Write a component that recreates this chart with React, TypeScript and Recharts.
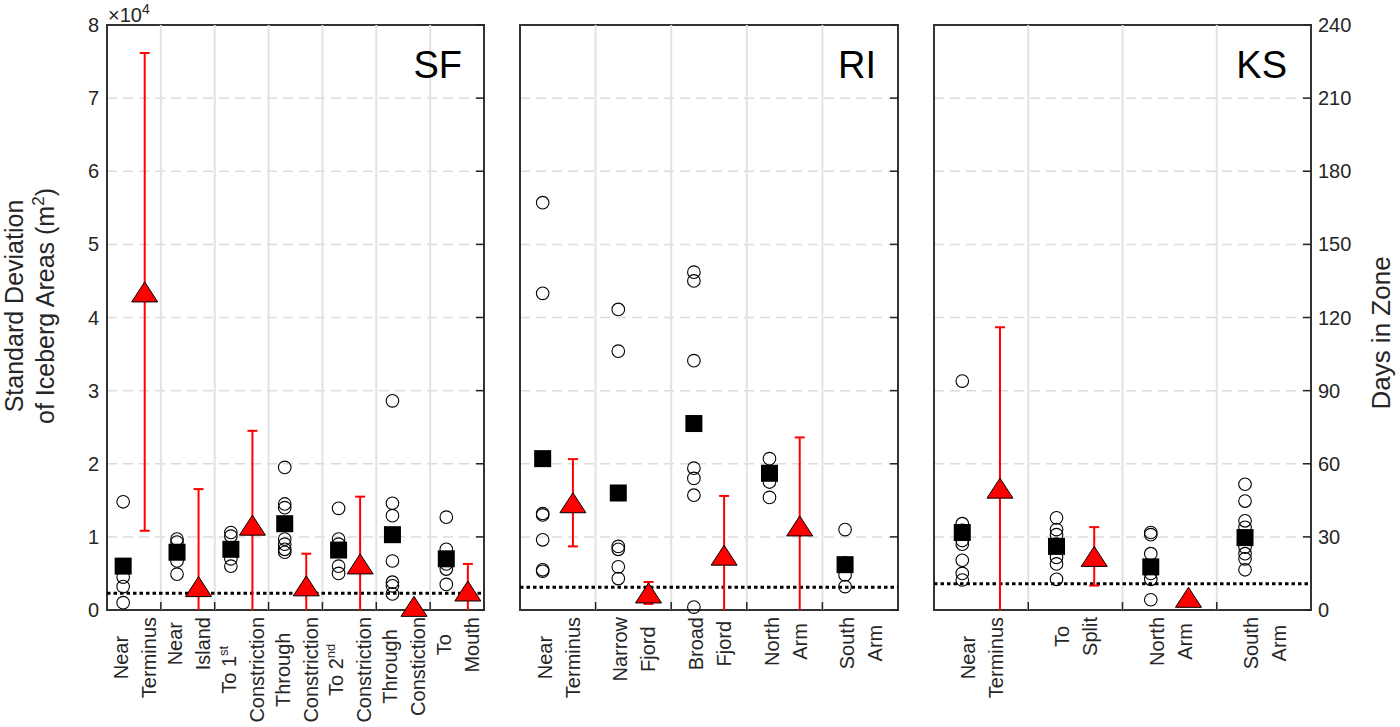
import React from "react";
import {
  CartesianGrid,
  ComposedChart,
  ErrorBar,
  ReferenceArea,
  ReferenceLine,
  Scatter,
  XAxis,
  YAxis
} from "recharts";

const W = 1400;
const H = 727;
const TOP = 25;
const BOTTOM = 610;
const FONT = "'Liberation Sans', Arial, Helvetica, sans-serif";
const INK = "#262626";

// areas in 1e4 m^2, days in zone on the right axis
const areaTicks = [0, 1, 2, 3, 4, 5, 6, 7, 8];
const dayTicks = [0, 30, 60, 90, 120, 150, 180, 210, 240];

// SF
const sfZones = [
  ["Near", "Terminus"],
  ["Near", "Island"],
  ["To 1^st", "Constriction"],
  ["Through", "Constriction"],
  ["To 2^nd", "Constriction"],
  ["Through", "Constiction"],
  ["To", "Mouth"]
];
const sfIcebergs = [
  [1.48, 0.45, 0.32, 0.1],
  [0.97, 0.93, 0.67, 0.49],
  [1.06, 1.01, 0.7, 0.6],
  [1.95, 1.45, 1.4, 0.97, 0.9, 0.83, 0.79],
  [1.39, 0.97, 0.9, 0.6, 0.5],
  [2.86, 1.46, 1.29, 0.67, 0.38, 0.33, 0.22],
  [1.27, 0.83, 0.63, 0.56, 0.35]
];
const sfMeans = [0.6, 0.79, 0.83, 1.18, 0.82, 1.03, 0.7];
const sfDays = [130.5, 9.6, 34.8, 9.9, 18.9, 1.5, 7.8];
const sfDaysStd = [98, 40, 38.7, 13.2, 27.6, 0, 11.1];
const sfThreshold = 0.23;

// RI
const riZones = [
  ["Near", "Terminus"],
  ["Narrow", "Fjord"],
  ["Broad", "Fjord"],
  ["North", "Arm"],
  ["South", "Arm"]
];
const riIcebergs = [
  [5.57, 4.33, 1.32, 1.3, 0.96, 0.55, 0.53],
  [4.11, 3.54, 0.87, 0.83, 0.59, 0.43],
  [4.62, 4.5, 3.41, 1.94, 1.8, 1.57, 0.04],
  [2.07, 1.87, 1.75, 1.54],
  [1.1, 0.64, 0.48, 0.32]
];
const riMeans = [2.07, 1.6, 2.55, 1.87, 0.62];
const riDays = [44, 7, 22.5, 34.5, null];
const riDaysStd = [17.9, 4.5, 24.3, 36.3, null];
const riThreshold = 0.31;

// KS
const ksZones = [
  ["Near", "Terminus"],
  ["To", "Split"],
  ["North", "Arm"],
  ["South", "Arm"]
];
const ksIcebergs = [
  [3.13, 1.18, 1.09, 0.95, 0.9, 0.68, 0.5, 0.41],
  [1.26, 1.1, 1.03, 0.9, 0.72, 0.63, 0.42],
  [1.06, 1.03, 0.77, 0.5, 0.42, 0.14],
  [1.72, 1.49, 1.22, 1.13, 0.86, 0.77, 0.7, 0.55]
];
const ksMeans = [1.06, 0.87, 0.59, 0.99];
const ksDays = [50, 22, 5.2, null];
const ksDaysStd = [66, 12, 0, null];
const ksThreshold = 0.36;

let measureCtx: CanvasRenderingContext2D | null = null;
function textWidth(s: string, size: number) {
  if (!measureCtx) measureCtx = document.createElement("canvas").getContext("2d");
  if (!measureCtx) return s.length * size * 0.55;
  measureCtx.font = `${size}px 'Liberation Sans'`;
  return measureCtx.measureText(s).width;
}

function lineWidth(line: string) {
  const [main, sup] = line.split("^");
  return textWidth(main, 20) + (sup ? textWidth(sup, 13) : 0);
}

function LabelLine({ line, y }: { line: string; y: number }) {
  const [main, sup] = line.split("^");
  return (
    <>
      <tspan x={0} y={y}>{main}</tspan>
      {sup && <tspan dy={-8} fontSize={13}>{sup}</tspan>}
    </>
  );
}

const circleShape = (p: any) => (
  <circle cx={p.cx} cy={p.cy} r={6.3} fill="none" stroke="#000" strokeWidth={1.1} />
);
const squareShape = (p: any) => (
  <rect x={p.cx - 8.5} y={p.cy - 8.5} width={17} height={17} fill="#000" />
);
const triangleShape = (p: any) => (
  <path
    d={`M${p.cx},${p.cy - 10} L${p.cx + 13},${p.cy + 10} L${p.cx - 13},${p.cy + 10} Z`}
    fill="#ff0000"
    stroke="#000"
    strokeWidth={1}
  />
);
const noShape = () => <g />;

type PanelProps = {
  zones: string[][];
  icebergs: number[][];
  means: number[];
  days: (number | null)[];
  daysStd: (number | null)[];
  threshold: number;
  left: number;
  right: number;
  showLeft?: boolean;
  showRight?: boolean;
};

function Panel({ zones, icebergs, means, days, daysStd, threshold, left, right, showLeft, showRight }: PanelProps) {
  const n = zones.length;
  const circleData = icebergs.flatMap((vals, i) => vals.map((v) => ({ x: i + 0.8, y: v })));
  const meanData = means.map((v, i) => ({ x: i + 0.8, y: v }));
  const dayData = days.flatMap((v, i) => (v == null ? [] : [{ x: i + 1.2, y: v, std: daysStd[i] }]));
  const xTicks: number[] = [];
  for (let i = 1; i <= n; i++) {
    xTicks.push(i);
    if (i < n) xTicks.push(i + 0.5);
  }
  const bounds = xTicks.filter((t) => !Number.isInteger(t));

  const xTick = ({ x, payload }: any) => {
    const v = payload.value;
    if (!Number.isInteger(v)) {
      return <line x1={x} x2={x} y1={BOTTOM} y2={BOTTOM - 8} stroke={INK} strokeWidth={1.5} />;
    }
    const lines = zones[v - 1];
    const len = Math.max(...lines.map(lineWidth));
    return (
      <g transform={`translate(${x},${BOTTOM + 7 + len / 2}) rotate(-90)`}>
        <text textAnchor="middle" fontSize={20} fill={INK} fontFamily={FONT}>
          <LabelLine line={lines[0]} y={-6} />
          <LabelLine line={lines[1]} y={22} />
        </text>
      </g>
    );
  };

  const leftTick = ({ y, payload }: any) => (
    <text x={left - 8} y={y} dy={7} textAnchor="end" fontSize={20} fill={INK} fontFamily={FONT}>
      {payload.value}
    </text>
  );

  const rightTick = ({ y, payload }: any) => (
    <g>
      <line x1={right - 8} x2={right} y1={y} y2={y} stroke={INK} strokeWidth={1.5} />
      {showRight && (
        <text x={right + 7} y={y} dy={7} textAnchor="start" fontSize={20} fill={INK} fontFamily={FONT}>
          {payload.value}
        </text>
      )}
    </g>
  );

  return (
    <div style={{ position: "absolute", left: 0, top: 0 }}>
      <ComposedChart
        width={W}
        height={H}
        margin={{
          top: TOP,
          bottom: H - BOTTOM - 1,
          left: showLeft ? left - 1 : left,
          right: W - right - 1
        }}
      >
        <CartesianGrid
          yAxisId="area"
          vertical={false}
          stroke="#dcdcdc"
          strokeWidth={1.5}
          strokeDasharray="10 6"
        />
        <XAxis
          dataKey="x"
          type="number"
          domain={[0.5, n + 0.5]}
          ticks={xTicks}
          interval={0}
          tick={xTick}
          tickLine={false}
          axisLine={false}
          height={1}
        />
        <YAxis
          yAxisId="area"
          dataKey="y"
          type="number"
          domain={[0, 8]}
          ticks={areaTicks}
          interval={0}
          hide={!showLeft}
          width={1}
          tick={leftTick}
          tickLine={false}
          axisLine={false}
        />
        <YAxis
          yAxisId="days"
          orientation="right"
          dataKey="y"
          type="number"
          domain={[0, 240]}
          ticks={dayTicks}
          interval={0}
          width={1}
          tick={rightTick}
          tickLine={false}
          axisLine={false}
        />
        {/* same scale as "days", fixed so the +-std bars cannot stretch it */}
        <YAxis yAxisId="err" dataKey="y" type="number" domain={[0, 240]} allowDataOverflow hide />
        {bounds.map((b) => (
          <ReferenceLine key={b} x={b} yAxisId="area" stroke="#e2e2e2" strokeWidth={2} />
        ))}
        <ReferenceLine
          y={threshold}
          yAxisId="area"
          stroke="#000"
          strokeWidth={3}
          strokeDasharray="3.5 3"
        />
        <ReferenceArea
          x1={0.5}
          x2={n + 0.5}
          y1={0}
          y2={8}
          yAxisId="area"
          fill="none"
          stroke="#333"
          strokeWidth={2}
        />
        <Scatter yAxisId="area" data={circleData} shape={circleShape} isAnimationActive={false} />
        <Scatter yAxisId="area" data={meanData} shape={squareShape} isAnimationActive={false} />
        <Scatter yAxisId="err" data={dayData} shape={noShape} isAnimationActive={false}>
          <ErrorBar
            dataKey="std"
            direction="y"
            stroke="#ff0000"
            strokeWidth={2}
            width={5}
            clipPath="url(#plot-clip)"
            isAnimationActive={false}
          />
        </Scatter>
        <Scatter yAxisId="days" data={dayData} shape={triangleShape} isAnimationActive={false} />
      </ComposedChart>
    </div>
  );
}

function Overlay() {
  return (
    <svg
      width={W}
      height={H}
      style={{ position: "absolute", left: 0, top: 0, pointerEvents: "none" }}
      fontFamily={FONT}
      fill={INK}
    >
      <defs>
        <clipPath id="plot-clip" clipPathUnits="userSpaceOnUse">
          <rect x={0} y={TOP} width={W} height={BOTTOM - TOP} />
        </clipPath>
      </defs>
      <text x={108} y={22} fontSize={20}>
        ×10<tspan dy={-8} fontSize={14}>4</tspan>
      </text>
      <text x={462} y={78} fontSize={38} textAnchor="end" fill="#000">SF</text>
      <text x={876} y={78} fontSize={38} textAnchor="end" fill="#000">RI</text>
      <text x={1287} y={78} fontSize={38} textAnchor="end" fill="#000">KS</text>
      <g transform="translate(23,306) rotate(-90)">
        <text textAnchor="middle" fontSize={25}>
          <tspan x={0} y={0}>Standard Deviation</tspan>
          <tspan x={0} y={31}>of Iceberg Areas (m</tspan>
          <tspan dy={-10} fontSize={17}>2</tspan>
          <tspan dy={10}>)</tspan>
        </text>
      </g>
      <g transform="translate(1390,333) rotate(-90)">
        <text textAnchor="middle" fontSize={26}>Days in Zone</text>
      </g>
    </svg>
  );
}

export default function App() {
  return (
    <div style={{ position: "absolute", left: 0, top: 0, width: W, height: H, background: "#fff" }}>
      <Panel
        zones={sfZones}
        icebergs={sfIcebergs}
        means={sfMeans}
        days={sfDays}
        daysStd={sfDaysStd}
        threshold={sfThreshold}
        left={107}
        right={484}
        showLeft
      />
      <Panel
        zones={riZones}
        icebergs={riIcebergs}
        means={riMeans}
        days={riDays}
        daysStd={riDaysStd}
        threshold={riThreshold}
        left={520}
        right={898}
      />
      <Panel
        zones={ksZones}
        icebergs={ksIcebergs}
        means={ksMeans}
        days={ksDays}
        daysStd={ksDaysStd}
        threshold={ksThreshold}
        left={934}
        right={1311}
        showRight
      />
      <Overlay />
    </div>
  );
}
